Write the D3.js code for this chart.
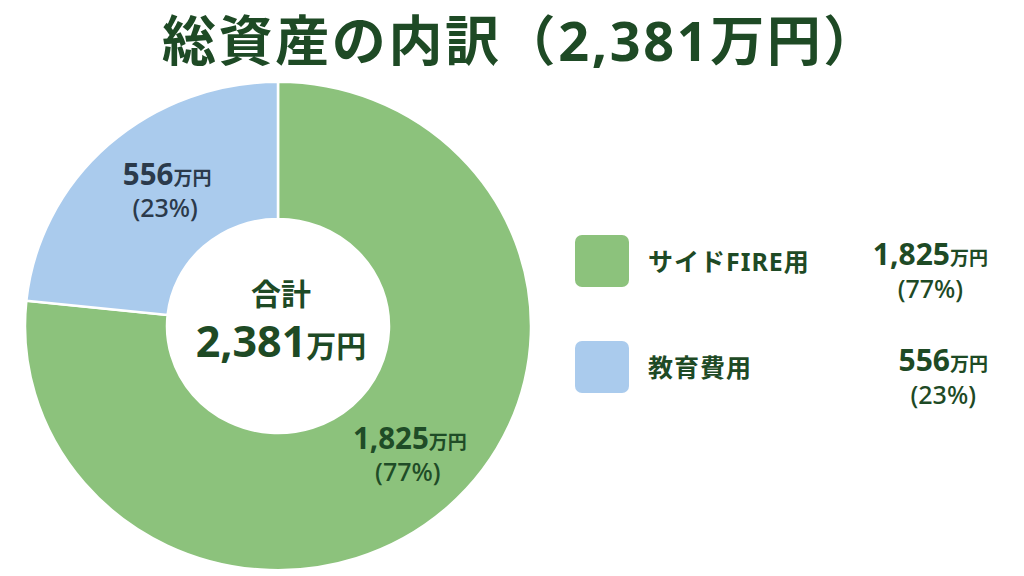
<!DOCTYPE html>
<html>
<head>
<meta charset="utf-8">
<script src="https://cdn.jsdelivr.net/npm/d3@7"></script>
<style>
  html, body { margin: 0; padding: 0; background: #ffffff; }
  svg { display: block; }
  text { font-family: "Noto Sans", "Noto Sans CJK JP", sans-serif; }
</style>
</head>
<body>
<svg id="chart" width="1024" height="576"></svg>
<script>
// ---- data ----
const categories = ["サイドFIRE用", "教育費用"];
const values = [1825, 556];          // 万円
const percents = [77, 23];           // %
const total = 2381;                  // 万円
const titleText = "総資産の内訳（2,381万円）";
const unit = "万円";

// ---- style ----
const colors = ["#8cc27c", "#aacbed"];
const labelColors = ["#1f4c27", "#2b3a4b"];
const darkGreen = "#1e4a25";

const svg = d3.select("#chart");
const fmt = d3.format(",");

// title
svg.append("text")
  .attr("x", 521).attr("y", 61)
  .attr("text-anchor", "middle")
  .attr("font-size", 54).attr("font-weight", "bold")
  .attr("letter-spacing", 2.6)
  .attr("fill", darkGreen)
  .text(titleText);

// donut
const cx = 278, cy = 326;
const outerR = 253, innerR = 111;
const pie = d3.pie().sort(null).value(d => d);
const arcs = pie(values);
const arc = d3.arc().innerRadius(innerR).outerRadius(outerR);

const g = svg.append("g")
  .attr("transform", `translate(${cx},${cy}) scale(1,0.965)`);
g.selectAll("path").data(arcs).join("path")
  .attr("d", arc)
  .attr("fill", (d, i) => colors[i])
  .attr("stroke", "#ffffff")
  .attr("stroke-width", 2.5);

// slice labels (positioned relative to arc centroid)
const labelArc = d3.arc().innerRadius(176).outerRadius(176);
const labelNudge = [[14, -8], [7, -10]];
arcs.forEach((a, i) => {
  const [x0, y0] = labelArc.centroid(a);
  const x = cx + x0 + labelNudge[i][0];
  const y = cy + y0 + labelNudge[i][1];
  const t = svg.append("text")
    .attr("x", x).attr("y", y)
    .attr("text-anchor", "middle")
    .attr("fill", labelColors[i]);
  t.append("tspan").attr("font-size", 29.5).attr("font-weight", "bold").text(fmt(values[i]));
  t.append("tspan").attr("font-size", 19).attr("font-weight", "bold").text(unit);
  svg.append("text")
    .attr("x", x - 2).attr("y", y + 32)
    .attr("text-anchor", "middle")
    .attr("font-size", 25).attr("font-weight", 500)
    .attr("fill", labelColors[i])
    .text(`(${percents[i]}%)`);
});

// center text
svg.append("text")
  .attr("x", cx + 3).attr("y", 305)
  .attr("text-anchor", "middle")
  .attr("font-size", 30).attr("font-weight", "bold")
  .attr("fill", darkGreen)
  .text("合計");
const ct = svg.append("text")
  .attr("x", cx + 3).attr("y", 357)
  .attr("text-anchor", "middle")
  .attr("fill", darkGreen);
ct.append("tspan").attr("font-size", 43).attr("font-weight", "bold").text(fmt(total));
ct.append("tspan").attr("font-size", 30).attr("font-weight", "bold").text(unit);

// legend
const legend = svg.append("g");
categories.forEach((c, i) => {
  const y0 = 235 + i * 106;
  legend.append("rect")
    .attr("x", 575).attr("y", y0)
    .attr("width", 54).attr("height", 52)
    .attr("rx", 7)
    .attr("fill", colors[i]);
  legend.append("text")
    .attr("x", 648).attr("y", y0 + 36)
    .attr("font-size", 25).attr("font-weight", "bold")
    .attr("letter-spacing", 1)
    .attr("fill", darkGreen)
    .text(c);
  const vt = legend.append("text")
    .attr("x", 988).attr("y", y0 + 30)
    .attr("text-anchor", "end")
    .attr("fill", darkGreen);
  vt.append("tspan").attr("font-size", 30).attr("font-weight", "bold").text(fmt(values[i]));
  vt.append("tspan").attr("font-size", 19).attr("font-weight", "bold").text(unit);
  const w = vt.node().getComputedTextLength();
  legend.append("text")
    .attr("x", 988 - w / 2).attr("y", y0 + 63)
    .attr("text-anchor", "middle")
    .attr("font-size", 25).attr("font-weight", 500)
    .attr("fill", darkGreen)
    .text(`(${percents[i]}%)`);
});
</script>
</body>
</html>
